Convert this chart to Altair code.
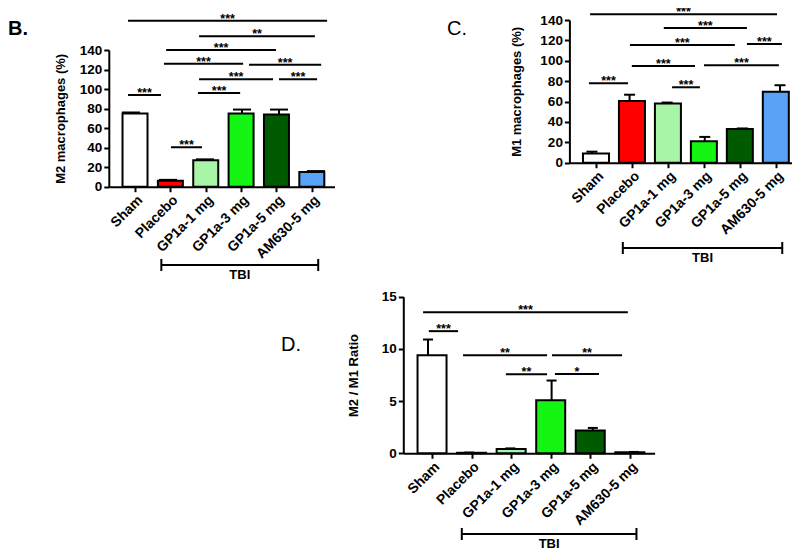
import json
import altair as alt
import pandas as pd

# ---------------- data ----------------
groups = ["Sham", "Placebo", "GP1a-1 mg", "GP1a-3 mg", "GP1a-5 mg", "AM630-5 mg"]
bar_colors = ["#ffffff", "#ff0000", "#a8f5a8", "#14f514", "#005a00", "#5aa2f5"]
positions = [0, 1, 2, 3, 4, 5]

m2_mean = [75, 6, 27, 75, 74, 15]
m2_sem = [1, 1, 1, 4, 5, 1]
m1_mean = [9, 60.5, 58, 21, 33, 69.5]
m1_sem = [1.8, 6.2, 1, 4.3, 0.6, 6.5]
ratio_mean = [9.4, 0.05, 0.42, 5.07, 2.18, 0.1]
ratio_sem = [1.5, 0.02, 0.05, 1.9, 0.25, 0.03]

# significance brackets (start / end in group-index units, height in y units)
m2_sig_start = [-0.08, 1.84, 0.95, 0.89, 3.19, 1.84, 4.0, 1.81, -0.08, 1.08]
m2_sig_end = [5.30, 4.97, 3.92, 3.03, 5.14, 3.84, 5.03, 2.95, 0.81, 1.92]
m2_sig_y = [170, 154, 140, 126, 125, 110, 110, 96, 94, 40.5]
m2_sig_lab = ["***", "**", "***", "***", "***", "***", "***", "***", "***", "***"]

m1_sig_start = [-0.05, 1.91, 1.01, 4.12, 1.06, 2.98, -0.08, 2.13]
m1_sig_end = [4.92, 4.12, 3.80, 5.05, 2.74, 4.97, 0.96, 2.87]
m1_sig_y = [145.6, 132.2, 115.5, 116.5, 94.9, 95.6, 77.9, 74.0]
m1_sig_lab = ["***", "***", "***", "***", "***", "***", "***", "***"]

ratio_sig_start = [-0.12, 0.02, 0.85, 3.01, 1.89, 3.08]
ratio_sig_end = [4.85, 0.73, 2.89, 4.71, 2.89, 4.15]
ratio_sig_y = [13.5, 11.7, 9.4, 9.4, 7.57, 7.6]
ratio_sig_lab = ["***", "***", "**", "**", "**", "*"]

tbi_span = [0.82, 5.06]
tbi_label = ["TBI"]

# ---------------- layout ----------------
W, H = 784, 543
FONT = "Liberation Sans"


def panel(mean, sem, s_start, s_end, s_y, s_lab, y_title, y_max, y_step,
          x_range, y_range, bar_size, cap_size, title_x, bracket_px,
          letter, letter_x, letter_y, letter_weight):
    df = pd.DataFrame({"pos": positions, "group": groups, "mean": mean,
                       "sem": sem, "color": bar_colors})
    df["top"] = df["mean"] + df["sem"]

    def xs():
        return alt.Scale(domain=[-0.6, 5.5], range=x_range, nice=False, zero=False)

    def ys():
        return alt.Scale(domain=[0, y_max], range=y_range, nice=False, zero=False)

    label_expr = json.dumps(groups) + "[datum.value]"
    x_axis = alt.Axis(orient="bottom", offset=y_range[0] - H, values=positions,
                      labelExpr=label_expr, labelAngle=-45, title=None,
                      grid=False, domainColor="black", domainWidth=2,
                      tickColor="black", tickWidth=2, tickSize=5,
                      labelFont=FONT, labelFontWeight="bold", labelFontSize=14,
                      labelColor="black", labelPadding=1, labelOverlap=False,
                      labelFlush=False, labelBound=False)
    y_axis = alt.Axis(orient="left", offset=-x_range[0],
                      values=list(range(0, y_max + 1, y_step)),
                      title=y_title, titleX=title_x, grid=False,
                      domainColor="black", domainWidth=2, tickColor="black",
                      tickWidth=2, tickSize=5, labelFont=FONT,
                      labelFontWeight="bold", labelFontSize=13.5,
                      labelColor="black", labelPadding=2, labelOverlap=False,
                      labelFlush=False, titleFont=FONT, titleFontWeight="bold",
                      titleFontSize=13, titleColor="black")

    base = alt.Chart(df)
    bars = base.mark_bar(size=bar_size, stroke="black", strokeWidth=2).encode(
        x=alt.X("pos:Q", scale=xs(), axis=x_axis),
        y=alt.Y("mean:Q", scale=ys(), axis=y_axis),
        fill=alt.Fill("color:N", scale=None),
    )
    err = base.mark_rule(color="black", strokeWidth=2).encode(
        x=alt.X("pos:Q", scale=xs(), axis=None),
        y=alt.Y("mean:Q", scale=ys(), axis=None),
        y2="top:Q",
    )
    caps = base.mark_tick(orient="horizontal", size=cap_size, thickness=2,
                          color="black", opacity=1).encode(
        x=alt.X("pos:Q", scale=xs(), axis=None),
        y=alt.Y("top:Q", scale=ys(), axis=None),
    )

    sdf = pd.DataFrame({"start": s_start, "end": s_end, "h": s_y, "lab": s_lab})
    sig = alt.Chart(sdf).mark_rule(color="black", strokeWidth=2).encode(
        x=alt.X("start:Q", scale=xs(), axis=None), x2="end:Q",
        y=alt.Y("h:Q", scale=ys(), axis=None),
    )
    sig_txt = alt.Chart(sdf).transform_calculate(
        mid="(datum.start + datum.end) / 2"
    ).mark_text(font=FONT, fontWeight="bold", fontSize=12.5, color="black",
                baseline="alphabetic", dy=2).encode(
        x=alt.X("mid:Q", scale=xs(), axis=None),
        y=alt.Y("h:Q", scale=ys(), axis=None),
        text="lab:N",
    )

    bdf = pd.DataFrame({"start": [tbi_span[0]], "end": [tbi_span[1]], "lab": tbi_label})
    br = alt.Chart(bdf).mark_rule(color="black", strokeWidth=2).encode(
        x=alt.X("start:Q", scale=xs(), axis=None), x2="end:Q",
        y=alt.value(bracket_px),
    )
    br_l = alt.Chart(bdf).mark_rule(color="black", strokeWidth=2).encode(
        x=alt.X("start:Q", scale=xs(), axis=None),
        y=alt.value(bracket_px - 6), y2=alt.value(bracket_px + 6),
    )
    br_r = alt.Chart(bdf).mark_rule(color="black", strokeWidth=2).encode(
        x=alt.X("end:Q", scale=xs(), axis=None),
        y=alt.value(bracket_px - 6), y2=alt.value(bracket_px + 6),
    )
    tbi = alt.Chart(bdf).transform_calculate(
        mid="(datum.start + datum.end) / 2"
    ).mark_text(font=FONT, fontWeight="bold", fontSize=13, color="black",
                baseline="middle").encode(
        x=alt.X("mid:Q", scale=xs(), axis=None),
        y=alt.value(bracket_px + 10),
        text="lab:N",
    )

    ldf = pd.DataFrame({"t": [letter]})
    let = alt.Chart(ldf).mark_text(font=FONT, fontWeight=letter_weight, fontSize=20,
                                   color="black", align="left",
                                   baseline="alphabetic").encode(
        x=alt.value(letter_x), y=alt.value(letter_y), text="t:N",
    )

    return [bars, err, caps, sig, sig_txt, br, br_l, br_r, tbi, let]


layers = []
layers += panel(m2_mean, m2_sem, m2_sig_start, m2_sig_end, m2_sig_y, m2_sig_lab,
                "M2 macrophages (%)", 140, 20,
                [100.8, 326.5], [178.7, 42], 25, 18, -41, 257,
                "B.", 0, 27, "bold")
layers += panel(m1_mean, m1_sem, m1_sig_start, m1_sig_end, m1_sig_y, m1_sig_lab,
                "M1 macrophages (%)", 140, 20,
                [561.4, 790.8], [154.7, 12], 26, 11, -46, 240,
                "C.", 439, 27, "normal")
layers += panel(ratio_mean, ratio_sem, ratio_sig_start, ratio_sig_end, ratio_sig_y,
                ratio_sig_lab, "M2 / M1 Ratio", 15, 5,
                [395.3, 646.6], [445.3, 288.7], 29, 10, -43, 526,
                "D.", 273, 343, "normal")

chart = alt.layer(*layers).resolve_scale(
    x="independent", y="independent"
).properties(
    width=W, height=H, padding=0,
    autosize=alt.AutoSizeParams(type="none"),
).configure_view(stroke=None)

chart.save("out.html", embed_options={"renderer": "svg", "actions": False})
